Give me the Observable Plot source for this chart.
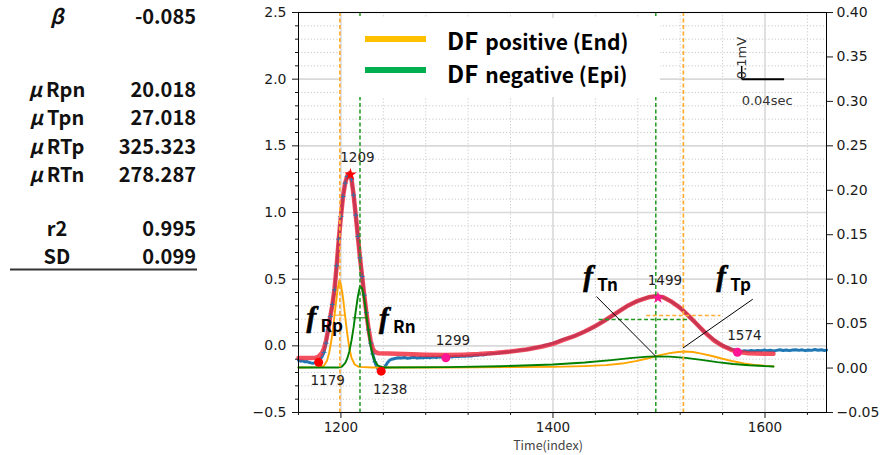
<!DOCTYPE html>
<html>
<head>
<meta charset="utf-8">
<script src="https://cdn.jsdelivr.net/npm/d3@7"></script>
<script src="https://cdn.jsdelivr.net/npm/@observablehq/plot@0.6"></script>
<style>
html,body{margin:0;padding:0;background:#fff;}
#wrap{position:relative;width:886px;height:455px;overflow:hidden;background:#fff;}
#wrap > svg{position:absolute;left:0;top:0;}
</style>
</head>
<body>
<div id="wrap"></div>
<script>
// ===================== DATA =====================
const statLabels = ["β", "μRpn", "μTpn", "μRTp", "μRTn", "r2", "SD"];
const statValues = ["-0.085", "20.018", "27.018", "325.323", "278.287", "0.995", "0.099"];

const legendNames = ["positive (End)", "negative (Epi)"];

const xMajor = [1200, 1400, 1600];
const xMinor = [1160, 1240, 1280, 1320, 1360, 1440, 1480, 1520, 1560, 1640];
const yMajor = [-0.5, 0, 0.5, 1.0, 1.5, 2.0, 2.5];
const yMinor = [-0.4, -0.3, -0.2, -0.1, 0.1, 0.2, 0.3, 0.4, 0.6, 0.7, 0.8, 0.9, 1.1, 1.2, 1.3, 1.4, 1.6, 1.7, 1.8, 1.9, 2.1, 2.2, 2.3, 2.4];
const rightTicks = [-0.05, 0.00, 0.05, 0.10, 0.15, 0.20, 0.25, 0.30, 0.35, 0.40];

// measured ECG (index, value)
const blueData = [
 [1160,-0.108],[1162,-0.115],[1164,-0.112],[1166,-0.12],[1168,-0.118],[1170,-0.125],[1172,-0.128],[1174,-0.13],
 [1176,-0.126],[1178,-0.118],[1180,-0.105],[1182,-0.085],[1184,-0.05],[1186,0.02],[1188,0.12],[1190,0.22],
 [1192,0.31],[1194,0.42],[1196,0.6],[1198,0.8],[1200,0.97],[1202,1.12],[1204,1.22],[1206,1.27],[1208,1.29],
 [1210,1.25],[1212,1.13],[1214,0.98],[1216,0.82],[1218,0.66],[1220,0.52],[1222,0.38],[1224,0.25],[1226,0.12],
 [1228,0.02],[1230,-0.06],[1232,-0.12],[1234,-0.16],[1236,-0.18],[1238,-0.185],[1240,-0.175],[1242,-0.15],
 [1244,-0.125],[1246,-0.108],[1248,-0.1],[1251,-0.095],[1254,-0.09],[1257,-0.092],[1260,-0.088],[1263,-0.094],
 [1266,-0.09],[1269,-0.086],[1272,-0.092],[1275,-0.088],[1278,-0.09],[1281,-0.085],[1284,-0.089],[1287,-0.084],
 [1290,-0.088],[1293,-0.083],[1296,-0.086],[1299,-0.085],[1302,-0.08],[1305,-0.083],[1308,-0.078],[1311,-0.081],
 [1314,-0.076],[1317,-0.079],[1320,-0.074],[1323,-0.077],[1326,-0.071],[1329,-0.07],[1332,-0.066],[1335,-0.068],
 [1338,-0.062],[1341,-0.06],[1344,-0.057],[1347,-0.055],[1350,-0.052],[1353,-0.05],[1356,-0.046],[1359,-0.044],
 [1362,-0.04],[1365,-0.038],[1368,-0.034],[1371,-0.032],[1374,-0.027],[1377,-0.025],[1380,-0.02],[1383,-0.014],
 [1386,-0.01],[1389,-0.004],[1392,0.003],[1395,0.008],[1398,0.015],[1401,0.022],[1404,0.03],[1407,0.04],
 [1410,0.048],[1413,0.056],[1416,0.062],[1419,0.07],[1422,0.08],[1425,0.09],[1428,0.1],[1431,0.112],
 [1434,0.122],[1437,0.135],[1440,0.148],[1443,0.163],[1446,0.176],[1449,0.19],[1452,0.204],[1455,0.22],
 [1458,0.237],[1461,0.252],[1464,0.268],[1467,0.283],[1470,0.298],[1473,0.31],[1476,0.322],[1479,0.333],
 [1482,0.343],[1485,0.352],[1488,0.36],[1491,0.366],[1494,0.37],[1497,0.374],[1500,0.372],[1503,0.366],
 [1506,0.356],[1509,0.344],[1512,0.33],[1515,0.314],[1518,0.298],[1521,0.278],[1524,0.256],[1527,0.232],
 [1530,0.208],[1533,0.185],[1536,0.16],[1539,0.135],[1542,0.112],[1545,0.09],[1548,0.07],[1551,0.05],
 [1554,0.032],[1557,0.016],[1560,0.003],[1563,-0.008],[1566,-0.018],[1569,-0.026],[1572,-0.032],[1575,-0.038],
 [1578,-0.04],[1581,-0.036],[1584,-0.04],[1587,-0.035],[1590,-0.038],[1593,-0.034],[1596,-0.037],[1599,-0.032],
 [1602,-0.036],[1605,-0.033],[1608,-0.038],[1611,-0.034],[1614,-0.03],[1617,-0.035],[1620,-0.031],[1623,-0.036],
 [1626,-0.032],[1629,-0.029],[1632,-0.034],[1635,-0.03],[1638,-0.036],[1641,-0.031],[1644,-0.034],[1647,-0.028],
 [1650,-0.033],[1653,-0.03],[1656,-0.035],[1658,-0.032]
];

// fitted curve
const fitData = [
 [1160,-0.092],[1170,-0.092],[1176,-0.09],[1179,-0.08],[1182,-0.055],[1184,-0.02],[1186,0.04],[1188,0.12],
 [1190,0.22],[1192,0.31],[1194,0.43],[1196,0.6],[1198,0.8],[1200,0.97],[1202,1.12],[1204,1.22],[1206,1.275],
 [1208,1.295],[1210,1.25],[1212,1.13],[1214,0.98],[1216,0.82],[1218,0.66],[1220,0.52],[1222,0.38],[1224,0.25],
 [1226,0.13],[1228,0.04],[1230,-0.02],[1232,-0.045],[1235,-0.055],[1245,-0.058],[1260,-0.062],[1280,-0.066],
 [1299,-0.068],[1315,-0.066],[1330,-0.062],[1345,-0.054],[1360,-0.043],[1375,-0.028],[1390,-0.005],[1400,0.015],
 [1410,0.045],[1420,0.072],[1430,0.108],[1440,0.148],[1450,0.196],[1460,0.248],[1470,0.298],[1480,0.338],
 [1490,0.364],[1497,0.372],[1504,0.364],[1512,0.33],[1520,0.285],[1528,0.225],[1536,0.16],[1544,0.095],
 [1552,0.04],[1560,0.0],[1568,-0.03],[1576,-0.047],[1584,-0.055],[1592,-0.058],[1600,-0.06],[1608,-0.06]
];

// DF positive (End) component
const dfPos = [
 [1160,-0.162],[1180,-0.16],[1184,-0.15],[1187,-0.11],[1189,-0.05],[1191,0.04],[1193,0.16],[1195,0.3],
 [1197,0.43],[1198.5,0.49],[1200,0.46],[1202,0.36],[1204,0.22],[1206,0.09],[1208,-0.02],[1210,-0.09],
 [1213,-0.14],[1217,-0.158],[1230,-0.162],[1300,-0.162],[1360,-0.16],[1400,-0.158],[1430,-0.152],[1450,-0.145],
 [1465,-0.133],[1478,-0.115],[1490,-0.093],[1500,-0.072],[1510,-0.055],[1518,-0.046],[1524,-0.043],[1532,-0.046],
 [1540,-0.058],[1550,-0.076],[1560,-0.097],[1570,-0.116],[1580,-0.132],[1590,-0.143],[1600,-0.15],[1608,-0.154]
];

// DF negative (Epi) component
const dfNeg = [
 [1160,-0.163],[1198,-0.162],[1201,-0.155],[1204,-0.13],[1206,-0.095],[1208,-0.04],[1210,0.04],[1212,0.14],
 [1214,0.26],[1216,0.37],[1218,0.45],[1220,0.43],[1222,0.35],[1224,0.23],[1226,0.11],[1228,0.0],[1230,-0.07],
 [1232,-0.115],[1235,-0.148],[1240,-0.162],[1300,-0.16],[1350,-0.153],[1400,-0.14],[1430,-0.125],[1455,-0.107],
 [1475,-0.09],[1490,-0.081],[1498,-0.079],[1510,-0.081],[1525,-0.09],[1540,-0.105],[1555,-0.122],[1570,-0.136],
 [1585,-0.146],[1600,-0.152],[1608,-0.155]
];

// component peak positions
const dfPosPeaks = [1199, 1523];
const dfNegPeaks = [1218, 1497];

// half-width markers [from, to, level]
const dfPosWidthR = [[1193, 1204.5, 0.23]];
const dfNegWidthR = [[1211, 1225, 0.21]];
const dfPosWidthT = [[1488, 1558, 0.227]];
const dfNegWidthT = [[1443, 1527, 0.197]];

// fiducial points
const ptIdx  = [1179, 1209, 1238, 1299, 1499, 1574];
const ptVal  = [-0.123, 1.285, -0.19, -0.09, 0.36, -0.048];
const ptWave = ["R", "R", "R", "T", "T", "T"];
const ptKind = ["start", "peak", "end", "start", "peak", "end"];

// f labels
const fSub = ["Rp", "Rn", "Tn", "Tp"];
const fIdx = [1167.5, 1236, 1428.5, 1554];
const fVal = [0.145, 0.135, 0.45, 0.45];

// pointer lines for T components [fromIdx, fromVal, toIdx, toVal]
const fPointers = [[1441, 0.37, 1497, -0.079], [1588.5, 0.35, 1522.5, -0.017]];

// scale bar: 0.04 sec (40 samples) x 0.1 mV
const scaleBar = {x: 1578, y: 2.0, len: 40, h: 0.1};

// ===================== CHART =====================
const points = ptIdx.map((i, k) => ({i, v: ptVal[k], wave: ptWave[k], kind: ptKind[k]}));
const fLabels = fSub.map((s, k) => ({s, x: fIdx[k], y: fVal[k]}));
const P = d => d[0], V = d => d[1];
const minus = s => s.replace("-", "\u2212");
const fmtL = d => minus(d.toFixed(1));
const toLeft = r => (r + 0.05) / 0.15 - 0.5;
const toRight = l => (l + 0.5) * 0.15 - 0.05;
const fmtR = l => { const r = Math.round(toRight(l) * 100) / 100; return minus((Math.abs(r) < 1e-9 ? 0 : r).toFixed(2)); };

const minorGrid = {stroke: "#c4c4c4", strokeOpacity: 1, strokeWidth: 0.9, strokeDasharray: "1.2,2"};
const majorGrid = {stroke: "#d9d9d9", strokeOpacity: 1, strokeWidth: 1.6};
const pink = "#ff1493";
const ORANGE = "#ffa500", GREEN = "#008000";
const rWave = blueData.filter(d => d[0] >= 1184 && d[0] <= 1236);

const chart = Plot.plot({
  width: 886, height: 455,
  marginLeft: 298, marginRight: 60, marginTop: 12, marginBottom: 43,
  x: {domain: [1160, 1658]},
  y: {domain: [-0.5, 2.5]},
  style: {fontFamily: "DejaVu Sans", fontSize: "13.5px", color: "#1a1a1a", background: "transparent"},
  marks: [
    Plot.gridX(xMinor, minorGrid),
    Plot.gridY(yMinor, minorGrid),
    Plot.gridX(xMajor, majorGrid),
    Plot.gridY(yMajor, majorGrid),
    Plot.line(blueData, {x: P, y: V, stroke: "#1f77b4", strokeWidth: 3}),
    Plot.line(fitData, {x: P, y: V, stroke: "#f0283c", strokeOpacity: 0.82, strokeWidth: 4.5}),
    Plot.dot(rWave, {x: P, y: V, symbol: "plus", r: 1.8, stroke: "#1f77b4", strokeWidth: 1, strokeOpacity: 0.85}),
    Plot.line(dfPos, {x: P, y: V, stroke: ORANGE, strokeWidth: 1.9}),
    Plot.line(dfNeg, {x: P, y: V, stroke: GREEN, strokeWidth: 1.9}),
    Plot.ruleX(dfPosPeaks, {stroke: "#ffad33", strokeWidth: 1.7, strokeDasharray: "4,2.5"}),
    Plot.ruleX(dfNegPeaks, {stroke: "#1f9a1f", strokeWidth: 1.5, strokeDasharray: "4,2.5"}),
    Plot.link(dfPosWidthR, {x1: d => d[0], x2: d => d[1], y1: d => d[2], y2: d => d[2], stroke: ORANGE, strokeWidth: 1}),
    Plot.link(dfNegWidthR, {x1: d => d[0], x2: d => d[1], y1: d => d[2], y2: d => d[2], stroke: GREEN, strokeWidth: 1}),
    Plot.link(dfPosWidthT, {x1: d => d[0], x2: d => d[1], y1: d => d[2], y2: d => d[2], stroke: "#ffad33", strokeWidth: 1.6, strokeDasharray: "4,2.5"}),
    Plot.link(dfNegWidthT, {x1: d => d[0], x2: d => d[1], y1: d => d[2], y2: d => d[2], stroke: "#1f9a1f", strokeWidth: 1.6, strokeDasharray: "4,2.5"}),
    Plot.link(fPointers, {x1: d => d[0], y1: d => d[1], x2: d => d[2], y2: d => d[3], stroke: "black", strokeWidth: 1}),
    // fiducial points
    Plot.dot(points.filter(d => d.wave === "R" && d.kind !== "peak"), {x: "i", y: "v", r: 4.5, fill: "red"}),
    Plot.dot(points.filter(d => d.wave === "R" && d.kind === "peak"), {x: "i", y: "v", r: 3.9, symbol: "star", fill: "red"}),
    Plot.dot(points.filter(d => d.wave === "T" && d.kind !== "peak"), {x: "i", y: "v", r: 4.5, fill: pink}),
    Plot.dot(points.filter(d => d.wave === "T" && d.kind === "peak"), {x: "i", y: "v", r: 3.9, symbol: "star", fill: pink}),
    Plot.text(points.filter(d => !(d.wave === "R" && d.kind !== "peak")), {x: "i", y: "v", text: d => String(d.i), dx: 7, dy: -17, lineAnchor: "middle", fontSize: 13.5, fill: "#222"}),
    Plot.text(points.filter(d => d.wave === "R" && d.kind !== "peak"), {x: "i", y: "v", text: d => String(d.i), dx: 9, dy: 18.5, lineAnchor: "middle", fontSize: 13.5, fill: "#222"}),
    // f labels
    Plot.text(fLabels, {x: "x", y: "y", text: () => "f", textAnchor: "start", lineAnchor: "bottom", fontFamily: "Liberation Serif", fontWeight: "bold", fontStyle: "italic", fontSize: 29, fill: "#000", stroke: "#000", strokeWidth: 0.6}),
    Plot.text(fLabels, {x: "x", y: "y", text: "s", dx: 14, dy: 5, textAnchor: "start", lineAnchor: "bottom", fontFamily: "Noto Sans CJK JP", fontWeight: "bold", fontSize: 17, fill: "#000"}),
    // scale bar
    Plot.link([scaleBar], {x1: d => d.x, y1: d => d.y, x2: d => d.x + d.len, y2: d => d.y, stroke: "black", strokeWidth: 2}),
    Plot.link([scaleBar], {x1: d => d.x, y1: d => d.y, x2: d => d.x, y2: d => d.y + d.h, stroke: "black", strokeWidth: 1.5}),
    Plot.text([scaleBar], {x: d => d.x, y: d => d.y, text: () => "0.1mV", rotate: -90, textAnchor: "start", lineAnchor: "middle", fontSize: 13, fill: "#333"}),
    Plot.text([scaleBar], {x: d => d.x, y: d => d.y, text: () => "0.04sec", dy: 22, textAnchor: "start", lineAnchor: "middle", fontSize: 13, fill: "#333"}),
    Plot.frame({stroke: "#000", strokeWidth: 1}),
    Plot.axisX(xMajor, {tickSize: 6, tickPadding: 4, label: null, tickFormat: d => String(d), fontSize: 13.5}),
    Plot.axisX(xMinor, {tickSize: 3, label: null, tickFormat: () => ""}),
    Plot.axisY(yMajor, {anchor: "left", tickSize: 6, tickPadding: 6, label: null, tickFormat: fmtL, fontSize: 14}),
    Plot.axisY(yMinor, {anchor: "left", tickSize: 3, label: null, tickFormat: () => ""}),
    Plot.axisY(rightTicks.map(toLeft), {anchor: "right", tickSize: 6, tickPadding: 4, label: null, tickFormat: fmtR, fontSize: 14})
  ]
});
document.getElementById("wrap").appendChild(chart);

// ===================== OVERLAY: stats table, legend, axis title =====================
const ov = d3.select("#wrap").append("svg").attr("width", 886).attr("height", 455);
const rowBaselines = [24, 97, 125, 154, 182, 236, 264];
const tbl = ov.append("g").attr("font-family", "'Noto Sans CJK JP', 'Noto Sans'").attr("font-weight", "bold").attr("font-size", 20).attr("fill", "#111");
statLabels.forEach((lab, k) => {
  const t = tbl.append("text").attr("x", 57).attr("y", rowBaselines[k]).attr("text-anchor", "middle");
  if (/^[βμ]/.test(lab)) {
    t.append("tspan").attr("font-style", "italic").text(lab[0]);
    if (lab.length > 1) t.append("tspan").attr("dx", 4).text(lab.slice(1));
  } else {
    t.text(lab);
  }
  tbl.append("text").attr("x", 196).attr("y", rowBaselines[k]).attr("text-anchor", "end").text(statValues[k]);
});
ov.append("line").attr("x1", 10).attr("x2", 197).attr("y1", 269.5).attr("y2", 269.5).attr("stroke", "#333").attr("stroke-width", 2);

// legend
const lg = ov.append("g");
lg.append("rect").attr("x", 342).attr("y", 18).attr("width", 318).attr("height", 79).attr("fill", "#fff");
const legendColors = ["#ffc000", "#00b050"];
const legendLineY = [39, 70];
const legendTextY = [50, 83];
legendNames.forEach((name, k) => {
  lg.append("line").attr("x1", 365).attr("x2", 426).attr("y1", legendLineY[k]).attr("y2", legendLineY[k])
    .attr("stroke", legendColors[k]).attr("stroke-width", 6);
  const t = lg.append("text").attr("x", 447).attr("y", legendTextY[k])
    .attr("font-family", "'Noto Sans CJK JP', 'Noto Sans'").attr("font-weight", "bold").attr("fill", "#000");
  t.append("tspan").attr("font-size", 24).text("DF");
  t.append("tspan").attr("font-size", 21).attr("dx", 7).text(name);
});

// x axis title
ov.append("text").attr("x", 548).attr("y", 450).attr("text-anchor", "middle")
  .attr("font-family", "'Noto Sans CJK JP', 'Noto Sans'").attr("font-size", 12.5).attr("fill", "#444").text("Time(index)");
</script>
</body>
</html>
